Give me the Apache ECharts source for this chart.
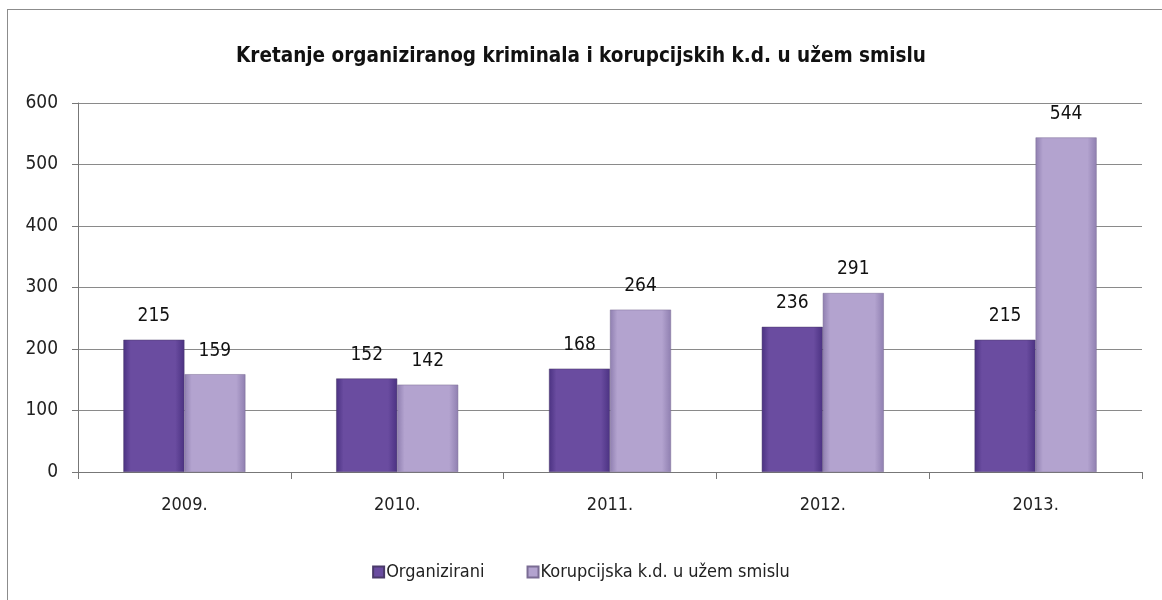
<!DOCTYPE html>
<html>
<head>
<meta charset="utf-8">
<script src="https://cdn.jsdelivr.net/npm/echarts@6/dist/echarts.min.js"></script>
<style>
  html, body { margin: 0; padding: 0; background: #fff; }
  #chart { width: 1162px; height: 600px; }
  .frame { position: absolute; left: 7px; top: 9px; width: 1160px; height: 600px; border: 1px solid #8c8c8c; box-sizing: border-box; pointer-events: none; }
</style>
</head>
<body>
<div id="chart"></div>
<div class="frame"></div>
<script>
const years = ['2009.', '2010.', '2011.', '2012.', '2013.']
const organizirani = [215, 152, 168, 236, 215]
const korupcijska = [159, 142, 264, 291, 544]
const yTicks = { min: 0, max: 600, step: 100 }

const FONT = '"Liberation Sans Narrow", "DejaVu Sans Condensed", "Liberation Sans", sans-serif'

// horizontal gradient to fake the bevelled Excel bars
const bevel = (edge, mid) => new echarts.graphic.LinearGradient(0, 0, 1, 0, [
  { offset: 0, color: edge },
  { offset: 0.12, color: mid },
  { offset: 0.85, color: mid },
  { offset: 1, color: edge }
])

const chart = echarts.init(document.getElementById('chart'), null, { renderer: 'canvas' })

chart.setOption({
  animation: false,
  backgroundColor: '#fff',
  textStyle: { fontFamily: FONT },
  title: {
    text: 'Kretanje organiziranog kriminala i korupcijskih k.d. u užem smislu',
    left: 'center',
    top: 41,
    textStyle: { fontSize: 20.5, fontWeight: 'bold', color: '#111', fontFamily: FONT }
  },
  legend: {
    bottom: 14,
    left: 'center',
    itemWidth: 11,
    itemHeight: 11,
    itemGap: 42,
    icon: 'rect',
    textStyle: { fontSize: 18, color: '#222', fontFamily: FONT, padding: [0, 0, 0, -3] },
    data: ['Organizirani', 'Korupcijska k.d. u užem smislu']
  },
  grid: { left: 78, right: 20, top: 103, bottom: 128 },
  xAxis: {
    type: 'category',
    data: years,
    axisLine: { lineStyle: { color: '#777' } },
    axisTick: { show: true, length: 7, lineStyle: { color: '#777' } },
    axisLabel: { fontSize: 18, color: '#222', margin: 24 }
  },
  yAxis: {
    type: 'value',
    min: yTicks.min,
    max: yTicks.max,
    interval: yTicks.step,
    axisLine: { show: true, lineStyle: { color: '#777' } },
    axisTick: { show: true, length: 6, lineStyle: { color: '#777' } },
    axisLabel: { fontSize: 19, color: '#222', margin: 20 },
    splitLine: { lineStyle: { color: '#8a8a8a', width: 1 } }
  },
  series: [
    {
      name: 'Organizirani',
      type: 'bar',
      barWidth: 61,
      barGap: '0%',
      data: organizirani,
      itemStyle: { color: bevel('#4b3282', '#6a4ca0'), borderColor: '#4a3a6a', borderWidth: 0.5 },
      label: { show: true, position: 'top', distance: 14, fontSize: 19, color: '#111' }
    },
    {
      name: 'Korupcijska k.d. u užem smislu',
      type: 'bar',
      barWidth: 61,
      data: korupcijska,
      itemStyle: { color: bevel('#8f7fb0', '#b3a3cf'), borderColor: '#7a6c94', borderWidth: 0.5 },
      label: { show: true, position: 'top', distance: 14, fontSize: 19, color: '#111' }
    }
  ]
})
</script>
</body>
</html>
